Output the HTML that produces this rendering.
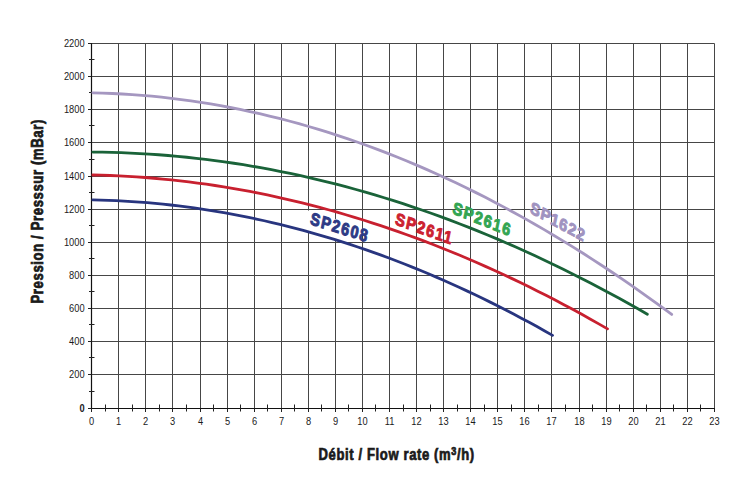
<!DOCTYPE html><html><head><meta charset="utf-8"><style>html,body{margin:0;padding:0;background:#fff;}svg{display:block}</style></head><body>
<svg width="750" height="500" viewBox="0 0 750 500">
<rect width="750" height="500" fill="#fff"/>
<path d="M118.5 43.5V408.5 M145.5 43.5V408.5 M172.5 43.5V408.5 M200.5 43.5V408.5 M227.5 43.5V408.5 M254.5 43.5V408.5 M281.5 43.5V408.5 M308.5 43.5V408.5 M335.5 43.5V408.5 M362.5 43.5V408.5 M389.5 43.5V408.5 M416.5 43.5V408.5 M443.5 43.5V408.5 M470.5 43.5V408.5 M497.5 43.5V408.5 M524.5 43.5V408.5 M551.5 43.5V408.5 M579.5 43.5V408.5 M606.5 43.5V408.5 M633.5 43.5V408.5 M660.5 43.5V408.5 M687.5 43.5V408.5 M714.5 43.5V408.5 M91.5 374.5H714.5 M91.5 341.5H714.5 M91.5 308.5H714.5 M91.5 275.5H714.5 M91.5 242.5H714.5 M91.5 209.5H714.5 M91.5 176.5H714.5 M91.5 142.5H714.5 M91.5 109.5H714.5 M91.5 76.5H714.5 M91.5 43.5H714.5" stroke="#464646" stroke-width="1" fill="none"/>
<path d="M91.5 43V409M91 408.5H715" stroke="#111" stroke-width="1.2" fill="none"/>
<path d="M88 408.5H91.5 M88 374.5H91.5 M88 341.5H91.5 M88 308.5H91.5 M88 275.5H91.5 M88 242.5H91.5 M88 209.5H91.5 M88 176.5H91.5 M88 142.5H91.5 M88 109.5H91.5 M88 76.5H91.5 M88 43.5H91.5 M89 391.5H94.5 M89 357.5H94.5 M89 324.5H94.5 M89 291.5H94.5 M89 258.5H94.5 M89 225.5H94.5 M89 192.5H94.5 M89 159.5H94.5 M89 125.5H94.5 M89 92.5H94.5 M89 59.5H94.5 M91.5 408.5V412 M118.5 408.5V412 M145.5 408.5V412 M172.5 408.5V412 M200.5 408.5V412 M227.5 408.5V412 M254.5 408.5V412 M281.5 408.5V412 M308.5 408.5V412 M335.5 408.5V412 M362.5 408.5V412 M389.5 408.5V412 M416.5 408.5V412 M443.5 408.5V412 M470.5 408.5V412 M497.5 408.5V412 M524.5 408.5V412 M551.5 408.5V412 M579.5 408.5V412 M606.5 408.5V412 M633.5 408.5V412 M660.5 408.5V412 M687.5 408.5V412 M714.5 408.5V412 M105.5 404.5V411.5 M132.5 404.5V411.5 M159.5 404.5V411.5 M186.5 404.5V411.5 M213.5 404.5V411.5 M240.5 404.5V411.5 M267.5 404.5V411.5 M294.5 404.5V411.5 M321.5 404.5V411.5 M348.5 404.5V411.5 M375.5 404.5V411.5 M403.5 404.5V411.5 M430.5 404.5V411.5 M457.5 404.5V411.5 M484.5 404.5V411.5 M511.5 404.5V411.5 M538.5 404.5V411.5 M565.5 404.5V411.5 M592.5 404.5V411.5 M619.5 404.5V411.5 M646.5 404.5V411.5 M673.5 404.5V411.5 M700.5 404.5V411.5" stroke="#222" stroke-width="1" fill="none"/>
<text transform="translate(84.6,411.5) scale(0.86,1)" text-anchor="end" font-family="Liberation Sans" font-size="10.8" font-weight="bold" fill="#1a1a1a">0</text>
<text transform="translate(84.6,377.5) scale(0.86,1)" text-anchor="end" font-family="Liberation Sans" font-size="10.8" fill="#1a1a1a">200</text>
<text transform="translate(84.6,344.5) scale(0.86,1)" text-anchor="end" font-family="Liberation Sans" font-size="10.8" fill="#1a1a1a">400</text>
<text transform="translate(84.6,311.5) scale(0.86,1)" text-anchor="end" font-family="Liberation Sans" font-size="10.8" fill="#1a1a1a">600</text>
<text transform="translate(84.6,278.5) scale(0.86,1)" text-anchor="end" font-family="Liberation Sans" font-size="10.8" fill="#1a1a1a">800</text>
<text transform="translate(84.6,245.5) scale(0.86,1)" text-anchor="end" font-family="Liberation Sans" font-size="10.8" fill="#1a1a1a">1000</text>
<text transform="translate(84.6,212.5) scale(0.86,1)" text-anchor="end" font-family="Liberation Sans" font-size="10.8" fill="#1a1a1a">1200</text>
<text transform="translate(84.6,179.5) scale(0.86,1)" text-anchor="end" font-family="Liberation Sans" font-size="10.8" fill="#1a1a1a">1400</text>
<text transform="translate(84.6,145.5) scale(0.86,1)" text-anchor="end" font-family="Liberation Sans" font-size="10.8" fill="#1a1a1a">1600</text>
<text transform="translate(84.6,112.5) scale(0.86,1)" text-anchor="end" font-family="Liberation Sans" font-size="10.8" fill="#1a1a1a">1800</text>
<text transform="translate(84.6,79.5) scale(0.86,1)" text-anchor="end" font-family="Liberation Sans" font-size="10.8" fill="#1a1a1a">2000</text>
<text transform="translate(84.6,46.5) scale(0.86,1)" text-anchor="end" font-family="Liberation Sans" font-size="10.8" fill="#1a1a1a">2200</text>
<text transform="translate(91.5,425.2) scale(0.86,1)" text-anchor="middle" font-family="Liberation Sans" font-size="10.8" fill="#1a1a1a">0</text>
<text transform="translate(118.5,425.2) scale(0.86,1)" text-anchor="middle" font-family="Liberation Sans" font-size="10.8" fill="#1a1a1a">1</text>
<text transform="translate(145.5,425.2) scale(0.86,1)" text-anchor="middle" font-family="Liberation Sans" font-size="10.8" fill="#1a1a1a">2</text>
<text transform="translate(172.5,425.2) scale(0.86,1)" text-anchor="middle" font-family="Liberation Sans" font-size="10.8" fill="#1a1a1a">3</text>
<text transform="translate(200.5,425.2) scale(0.86,1)" text-anchor="middle" font-family="Liberation Sans" font-size="10.8" fill="#1a1a1a">4</text>
<text transform="translate(227.5,425.2) scale(0.86,1)" text-anchor="middle" font-family="Liberation Sans" font-size="10.8" fill="#1a1a1a">5</text>
<text transform="translate(254.5,425.2) scale(0.86,1)" text-anchor="middle" font-family="Liberation Sans" font-size="10.8" fill="#1a1a1a">6</text>
<text transform="translate(281.5,425.2) scale(0.86,1)" text-anchor="middle" font-family="Liberation Sans" font-size="10.8" fill="#1a1a1a">7</text>
<text transform="translate(308.5,425.2) scale(0.86,1)" text-anchor="middle" font-family="Liberation Sans" font-size="10.8" fill="#1a1a1a">8</text>
<text transform="translate(335.5,425.2) scale(0.86,1)" text-anchor="middle" font-family="Liberation Sans" font-size="10.8" fill="#1a1a1a">9</text>
<text transform="translate(362.5,425.2) scale(0.86,1)" text-anchor="middle" font-family="Liberation Sans" font-size="10.8" fill="#1a1a1a">10</text>
<text transform="translate(389.5,425.2) scale(0.86,1)" text-anchor="middle" font-family="Liberation Sans" font-size="10.8" fill="#1a1a1a">11</text>
<text transform="translate(416.5,425.2) scale(0.86,1)" text-anchor="middle" font-family="Liberation Sans" font-size="10.8" fill="#1a1a1a">12</text>
<text transform="translate(443.5,425.2) scale(0.86,1)" text-anchor="middle" font-family="Liberation Sans" font-size="10.8" fill="#1a1a1a">13</text>
<text transform="translate(470.5,425.2) scale(0.86,1)" text-anchor="middle" font-family="Liberation Sans" font-size="10.8" fill="#1a1a1a">14</text>
<text transform="translate(497.5,425.2) scale(0.86,1)" text-anchor="middle" font-family="Liberation Sans" font-size="10.8" fill="#1a1a1a">15</text>
<text transform="translate(524.5,425.2) scale(0.86,1)" text-anchor="middle" font-family="Liberation Sans" font-size="10.8" fill="#1a1a1a">16</text>
<text transform="translate(551.5,425.2) scale(0.86,1)" text-anchor="middle" font-family="Liberation Sans" font-size="10.8" fill="#1a1a1a">17</text>
<text transform="translate(579.5,425.2) scale(0.86,1)" text-anchor="middle" font-family="Liberation Sans" font-size="10.8" fill="#1a1a1a">18</text>
<text transform="translate(606.5,425.2) scale(0.86,1)" text-anchor="middle" font-family="Liberation Sans" font-size="10.8" fill="#1a1a1a">19</text>
<text transform="translate(633.5,425.2) scale(0.86,1)" text-anchor="middle" font-family="Liberation Sans" font-size="10.8" fill="#1a1a1a">20</text>
<text transform="translate(660.5,425.2) scale(0.86,1)" text-anchor="middle" font-family="Liberation Sans" font-size="10.8" fill="#1a1a1a">21</text>
<text transform="translate(687.5,425.2) scale(0.86,1)" text-anchor="middle" font-family="Liberation Sans" font-size="10.8" fill="#1a1a1a">22</text>
<text transform="translate(714.5,425.2) scale(0.86,1)" text-anchor="middle" font-family="Liberation Sans" font-size="10.8" fill="#1a1a1a">23</text>
<rect x="-7" y="-13" width="46" height="19.5" fill="#fff" transform="translate(309.5,224.5) rotate(17.5)"/>
<polyline points="92.85,92.82 102.67,93.09 112.48,93.48 122.29,93.98 132.10,94.61 141.91,95.36 151.72,96.23 161.53,97.22 171.34,98.32 181.15,99.55 190.96,100.90 200.78,102.37 210.59,103.96 220.40,105.67 230.21,107.50 240.02,109.46 249.83,111.53 259.64,113.72 269.45,116.03 279.26,118.46 289.07,121.02 298.89,123.69 308.70,126.48 318.51,129.40 328.32,132.43 338.13,135.59 347.94,138.86 357.75,142.26 367.56,145.77 377.37,149.41 387.18,153.16 397.00,157.04 406.81,161.04 416.62,165.15 426.43,169.39 436.24,173.75 446.05,178.23 455.86,182.82 465.67,187.54 475.48,192.38 485.29,197.34 495.11,202.42 504.92,207.62 514.73,212.94 524.54,218.38 534.35,223.94 544.16,229.63 553.97,235.43 563.78,241.35 573.59,247.39 583.40,253.55 593.22,259.84 603.03,266.24 612.84,272.77 622.65,279.41 632.46,286.17 642.27,293.06 652.08,300.06 661.89,307.19 671.70,314.43" fill="none" stroke="#a597c0" stroke-width="2.8" stroke-linejoin="round" stroke-linecap="round"/>
<polyline points="92.85,152.10 102.25,152.21 111.65,152.40 121.05,152.69 130.45,153.07 139.84,153.54 149.24,154.10 158.64,154.76 168.04,155.50 177.43,156.33 186.83,157.26 196.23,158.28 205.63,159.39 215.03,160.59 224.42,161.88 233.82,163.26 243.22,164.73 252.62,166.29 262.01,167.95 271.41,169.69 280.81,171.53 290.21,173.46 299.61,175.48 309.00,177.59 318.40,179.79 327.80,182.08 337.20,184.46 346.60,186.94 355.99,189.50 365.39,192.16 374.79,194.90 384.19,197.74 393.58,200.67 402.98,203.69 412.38,206.80 421.78,210.01 431.18,213.30 440.57,216.69 449.97,220.16 459.37,223.73 468.77,227.39 478.16,231.14 487.56,234.98 496.96,238.91 506.36,242.93 515.76,247.04 525.15,251.25 534.55,255.54 543.95,259.93 553.35,264.41 562.74,268.97 572.14,273.63 581.54,278.39 590.94,283.23 600.34,288.16 609.73,293.18 619.13,298.30 628.53,303.51 637.93,308.80 647.33,314.19" fill="none" stroke="#1a6339" stroke-width="2.8" stroke-linejoin="round" stroke-linecap="round"/>
<polyline points="92.85,175.00 101.58,175.21 110.30,175.51 119.02,175.89 127.75,176.35 136.47,176.90 145.19,177.52 153.91,178.23 162.64,179.03 171.36,179.90 180.08,180.86 188.81,181.90 197.53,183.02 206.25,184.23 214.98,185.51 223.70,186.88 232.42,188.34 241.14,189.87 249.87,191.49 258.59,193.19 267.31,194.97 276.04,196.84 284.76,198.79 293.48,200.82 302.20,202.93 310.93,205.12 319.65,207.40 328.37,209.76 337.10,212.20 345.82,214.73 354.54,217.34 363.27,220.03 371.99,222.80 380.71,225.65 389.43,228.59 398.16,231.61 406.88,234.72 415.60,237.90 424.33,241.17 433.05,244.52 441.77,247.95 450.49,251.47 459.22,255.07 467.94,258.75 476.66,262.51 485.39,266.35 494.11,270.28 502.83,274.29 511.56,278.38 520.28,282.56 529.00,286.82 537.72,291.16 546.45,295.58 555.17,300.09 563.89,304.67 572.62,309.35 581.34,314.10 590.06,318.93 598.78,323.85 607.51,328.85" fill="none" stroke="#c8202f" stroke-width="2.8" stroke-linejoin="round" stroke-linecap="round"/>
<polyline points="92.85,199.91 100.65,200.09 108.44,200.34 116.23,200.67 124.02,201.07 131.81,201.55 139.60,202.09 147.39,202.71 155.18,203.41 162.97,204.17 170.76,205.01 178.55,205.92 186.35,206.90 194.14,207.96 201.93,209.09 209.72,210.29 217.51,211.57 225.30,212.92 233.09,214.34 240.88,215.83 248.67,217.40 256.46,219.04 264.26,220.75 272.05,222.54 279.84,224.40 287.63,226.33 295.42,228.33 303.21,230.41 311.00,232.56 318.79,234.78 326.58,237.08 334.37,239.44 342.16,241.89 349.96,244.40 357.75,246.99 365.54,249.65 373.33,252.38 381.12,255.19 388.91,258.06 396.70,261.02 404.49,264.04 412.28,267.14 420.07,270.31 427.87,273.55 435.66,276.87 443.45,280.26 451.24,283.72 459.03,287.25 466.82,290.86 474.61,294.54 482.40,298.29 490.19,302.12 497.98,306.02 505.78,309.99 513.57,314.03 521.36,318.15 529.15,322.34 536.94,326.60 544.73,330.94 552.52,335.35" fill="none" stroke="#28357f" stroke-width="2.8" stroke-linejoin="round" stroke-linecap="round"/>
<text transform="translate(309.5,224) skewY(17.5) scale(0.78,1) skewX(-14)" font-family="Liberation Sans" font-weight="bold" font-size="18" letter-spacing="1.8" fill="#2d3a85" stroke="#2d3a85" stroke-width="1.05">SP2608</text>
<text transform="translate(394.5,224.3) skewY(19.5) scale(0.78,1) skewX(-14)" font-family="Liberation Sans" font-weight="bold" font-size="18" letter-spacing="1.8" fill="#cc2230" stroke="#cc2230" stroke-width="1.05">SP2611</text>
<text transform="translate(452,213.2) skewY(22) scale(0.78,1) skewX(-14)" font-family="Liberation Sans" font-weight="bold" font-size="18" letter-spacing="1.8" fill="#33a552" stroke="#33a552" stroke-width="1.05">SP2616</text>
<text transform="translate(529.5,212.5) skewY(28.5) scale(0.78,1) skewX(-14)" font-family="Liberation Sans" font-weight="bold" font-size="18" letter-spacing="1.0" fill="#a093c0" stroke="#a093c0" stroke-width="1.05">SP1622</text>
<text transform="translate(318.5,460.3) scale(0.79,1)" font-family="Liberation Sans" font-weight="bold" font-size="16.5" letter-spacing="0.8" stroke="#1a1a1a" stroke-width="0.75" fill="#1a1a1a">Débit / Flow rate (m<tspan font-size="11.5" dy="-5.2">3</tspan><tspan dy="5.2">/h)</tspan></text>
<text transform="translate(43.4,303.5) rotate(-90) scale(0.794,1)" font-family="Liberation Sans" font-weight="bold" font-size="16.5" letter-spacing="0.8" stroke="#1a1a1a" stroke-width="0.75" fill="#1a1a1a">Pression / Presssur (mBar)</text>
</svg></body></html>
